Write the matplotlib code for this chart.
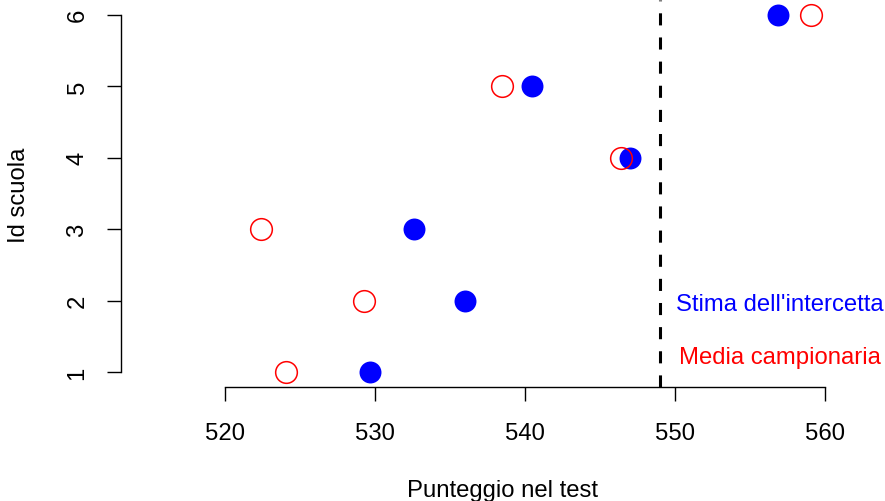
import matplotlib
matplotlib.use("Agg")
import matplotlib.pyplot as plt

plt.rcParams['font.family'] = ['Liberation Sans', 'DejaVu Sans']

# dati
school_id = [1, 2, 3, 4, 5, 6]
intercept_est = [529.7, 536.0, 532.6, 547.0, 540.5, 556.9]
sample_mean = [524.1, 529.3, 522.4, 546.4, 538.5, 559.1]
grand_mean = 549.0
x_ticks = [520, 530, 540, 550, 560]

W, H = 885, 502
fig = plt.figure(figsize=(W / 100, H / 100), dpi=100)
# regione del grafico in pixel (stile R)
left, right, top, bottom = 120.5, 884, 1.4, 387.6
ax = fig.add_axes([left / W, 1 - bottom / H, (right - left) / W, (bottom - top) / H])

fs = 17.2
ax.plot(intercept_est, school_id, 'o', color='#0000FF', ms=15.8, mew=0)
ax.plot(sample_mean, school_id, 'o', mfc='none', mec='#FF0000', ms=15.6, mew=1.1)
ax.axvline(grand_mean, color='black', lw=2.2, linestyle=(0, (3.96, 3.94)))

ax.text(557, 1.876, "Stima dell'intercetta", color='#0000FF', fontsize=fs,
        ha='center', va='baseline', clip_on=False)
ax.text(557, 1.13, "Media campionaria", color='#FF0000', fontsize=fs,
        ha='center', va='baseline', clip_on=False)

ax.set_xlim(513.07, 563.94)
ax.set_ylim(0.8, 6.2)
ax.set_xticks(x_ticks)
ax.set_yticks(school_id)
ax.set_xticklabels([str(v) for v in x_ticks], fontsize=fs)
ax.set_yticklabels([str(v) for v in school_id], fontsize=fs, rotation=90, va='center')

for s in ['top', 'right']:
    ax.spines[s].set_visible(False)
ax.spines['bottom'].set_bounds(x_ticks[0], x_ticks[-1])
ax.spines['left'].set_bounds(school_id[0], school_id[-1])
ax.spines['bottom'].set_linewidth(1.0)
ax.spines['left'].set_linewidth(1.0)
ax.tick_params(axis='both', direction='out', length=10, width=1.0)
ax.tick_params(axis='x', pad=15.5)
ax.tick_params(axis='y', pad=13)

fig.text(502.5 / W, 1 - 497 / H, "Punteggio nel test", fontsize=fs,
         ha='center', va='baseline')
fig.text(19 / W, 1 - 195 / H, "Id scuola", fontsize=fs, rotation=90,
         ha='center', va='center')

fig.savefig("out.png", dpi=100)
